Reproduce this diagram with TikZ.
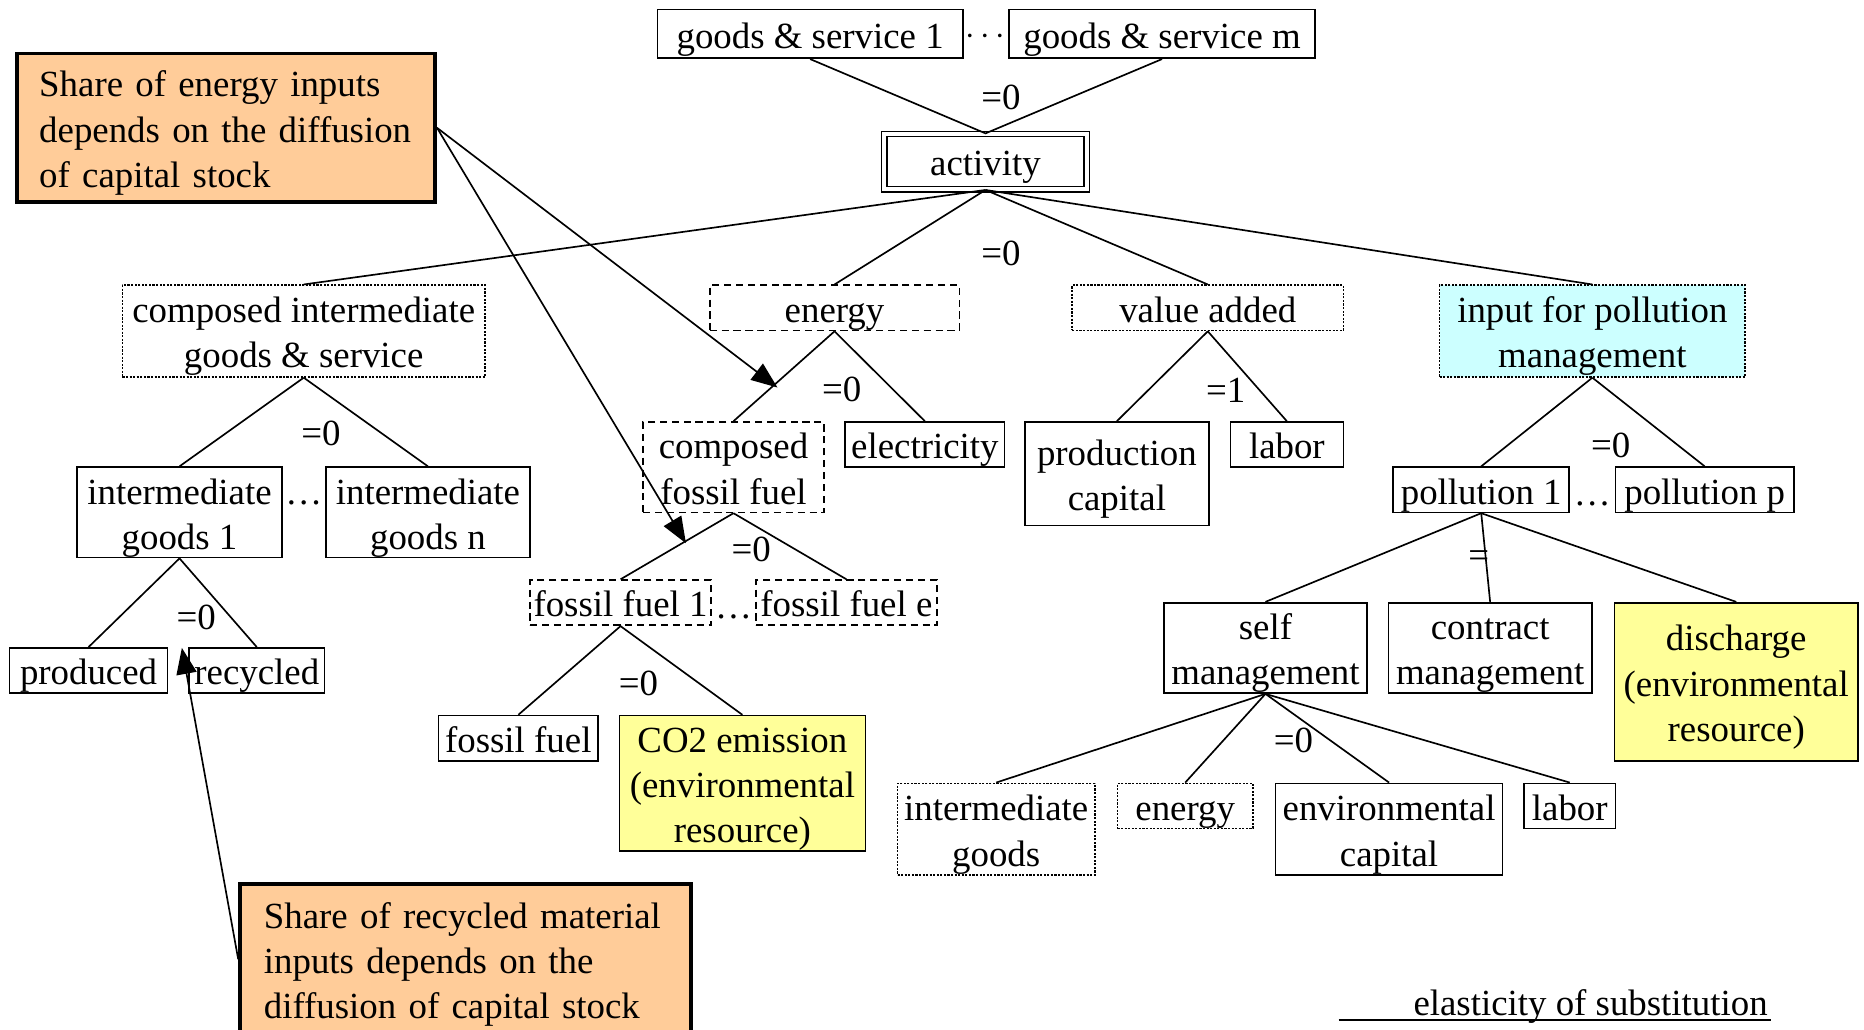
\documentclass[tikz,border=0pt]{standalone}
\usepackage{fontspec}
\setmainfont{Liberation Serif}
\usetikzlibrary{arrows.meta}
\definecolor{orangefill}{HTML}{FFCC99}
\definecolor{yellowfill}{HTML}{FFFF99}
\definecolor{cyanfill}{HTML}{CCFFFF}
\newcommand{\mytop}{\rule{0pt}{15.5pt}}
\newcommand{\mybot}{\rule[-3.5pt]{0pt}{3.5pt}}
\begin{document}
\begin{tikzpicture}[x=0.5pt,y=-0.5pt,
  every node/.style={font=\fontsize{15.5pt}{19pt}\selectfont},
  box/.style={draw, line width=0.7pt, inner sep=0pt, align=center},
  dotbox/.style={box, dash pattern=on 0.9pt off 0.6pt},
  dashbox/.style={box, dash pattern=on 3pt off 2pt},
  edge/.style={line width=0.7pt},
  note/.style={draw, line width=1.6pt, fill=orangefill, inner ysep=0pt, align=left},
  lbl/.style={inner sep=0pt},
  arr/.style={line width=0.7pt, -{Triangle[length=11pt,width=8.5pt]}}
]
\useasboundingbox (0,0) rectangle (1568,866);
\clip (0,0) rectangle (1568,866);

% top level
\node[box, minimum width=128.5pt, minimum height=20.5pt] (gs1) at (681.5,28.5) {\mytop goods \& service 1\mybot};
\node[box, minimum width=128.5pt, minimum height=20.5pt] (gsm) at (977.5,28.5) {\mytop goods \& service m\mybot};
\node[lbl] (d1) at (829,31) {$\cdots$};
\node[box, double, line width=0.6pt, double distance=1.6pt, minimum width=85.2pt, minimum height=23.2pt] (act) at (829,136) {\mytop activity\mybot};

% second level
\node[dotbox, minimum width=152.5pt, minimum height=38.5pt] (cigs) at (255.5,278.5) {\mytop composed intermediate\\goods \& service\mybot};
\node[dashbox, minimum width=105pt, minimum height=19pt] (energy) at (702,259) {\mytop energy\mybot};
\node[dotbox, minimum width=114pt, minimum height=19pt] (va) at (1016,259) {\mytop value added\mybot};
\node[dotbox, fill=cyanfill, minimum width=128.5pt, minimum height=38.5pt] (ipm) at (1339.5,278.5) {\mytop input for pollution\\management\mybot};

% intermediate branch
\node[box, minimum width=86pt, minimum height=38pt] (ig1) at (151,431) {\mytop intermediate\\goods 1\mybot};
\node[box, minimum width=86pt, minimum height=38pt] (ign) at (360,431) {\mytop intermediate\\goods n\mybot};
\node[lbl, anchor=base] (d2) at (255.5,424) {…};
\node[box, minimum width=66.5pt, minimum height=19pt] (prod) at (74.5,564) {\mytop produced\mybot};
\node[box, minimum width=57pt, minimum height=19pt] (rec) at (216,564) {\mytop recycled\mybot};

% energy branch
\node[dashbox, minimum width=76pt, minimum height=38pt] (cff) at (617,393) {\mytop composed\\fossil fuel\mybot};
\node[box, minimum width=67pt, minimum height=19pt] (elec) at (778,374) {\mytop electricity\mybot};
\node[dashbox, minimum width=76pt, minimum height=19pt] (ff1) at (522,507) {\mytop fossil fuel 1\mybot};
\node[dashbox, minimum width=76pt, minimum height=19pt] (ffe) at (712,507) {\mytop fossil fuel e\mybot};
\node[lbl, anchor=base] (d3) at (617,520) {…};
\node[box, minimum width=67pt, minimum height=19pt] (ff) at (436,621) {\mytop fossil fuel\mybot};
\node[box, fill=yellowfill, minimum width=103.5pt, minimum height=57pt] (co2) at (624.5,659) {\mytop CO2 emission\\(environmental\\resource)\mybot};

% value added branch
\node[box, minimum width=77.5pt, minimum height=43.5pt] (pc) at (939.5,398.5) {\mytop production\\capital\mybot};
\node[box, minimum width=47.5pt, minimum height=19pt] (lab) at (1082.5,374) {\mytop labor\mybot};

% pollution branch
\node[box, minimum width=74pt, minimum height=19pt] (p1) at (1246,412) {\mytop pollution 1\mybot};
\node[box, minimum width=75pt, minimum height=19pt] (pp) at (1434,412) {\mytop pollution p\mybot};
\node[lbl, anchor=base] (d4) at (1339.5,425) {…};
\node[box, minimum width=85.5pt, minimum height=38pt] (sm) at (1064.5,545) {\mytop self\\management\mybot};
\node[box, minimum width=85.5pt, minimum height=38pt] (cm) at (1253.5,545) {\mytop contract\\management\mybot};
\node[box, fill=yellowfill, minimum width=102.5pt, minimum height=66.5pt] (dis) at (1460.5,573.5) {\mytop discharge\\(environmental\\resource)\mybot};
\node[dotbox, minimum width=83pt, minimum height=38.5pt] (ig) at (838,697.5) {\mytop intermediate\\goods\mybot};
\node[dotbox, minimum width=57pt, minimum height=19pt] (en2) at (997,678) {\mytop energy\mybot};
\node[box, minimum width=95.5pt, minimum height=38.5pt] (ec) at (1168.5,697.5) {\mytop environmental\\capital\mybot};
\node[box, minimum width=38.5pt, minimum height=19pt] (lab2) at (1320.5,678) {\mytop labor\mybot};

% edges
\draw[edge] (gs1.south) -- (act.north) -- (gsm.south);
\foreach \c in {cigs,energy,va,ipm} \draw[edge] (act.south) -- (\c.north);
\foreach \c in {ig1,ign} \draw[edge] (cigs.south) -- (\c.north);
\foreach \c in {prod,rec} \draw[edge] (ig1.south) -- (\c.north);
\foreach \c in {cff,elec} \draw[edge] (energy.south) -- (\c.north);
\foreach \c in {ff1,ffe} \draw[edge] (cff.south) -- (\c.north);
\foreach \c in {ff,co2} \draw[edge] (ff1.south) -- (\c.north);
\foreach \c in {pc,lab} \draw[edge] (va.south) -- (\c.north);
\foreach \c in {p1,pp} \draw[edge] (ipm.south) -- (\c.north);
\foreach \c in {sm,cm,dis} \draw[edge] (p1.south) -- (\c.north);
\foreach \c in {ig,en2,ec,lab2} \draw[edge] (sm.south) -- (\c.north);

% elasticity labels
\node[lbl] (l1) at (842,82) {=0};
\node[lbl] (l2) at (842,213) {=0};
\node[lbl] (l3) at (270,365) {=0};
\node[lbl] (l4) at (165,519) {=0};
\node[lbl] (l5) at (708,328) {=0};
\node[lbl] (l6) at (632,462) {=0};
\node[lbl] (l7) at (537,575) {=0};
\node[lbl] (l8) at (1031,328) {=1};
\node[lbl] (l9) at (1355,375) {=0};
\node[lbl] (l10) at (1244,470) {=};
\node[lbl] (l11) at (1088,623) {=0};

% notes
\node[note, text width=157pt, inner xsep=9.5pt, minimum height=62.5pt] (o1) at (190,107.5) {\mytop Share of energy inputs\\depends on the diffusion\\of capital stock\mybot};
\node[note, text width=169.5pt, inner xsep=10pt, minimum height=63.5pt] (o2) at (391.5,807) {\mytop Share of recycled material\\inputs depends on the\\diffusion of capital stock\mybot};
\coordinate (t1) at (654,326);
\coordinate (t2) at (577,457);
\coordinate (t3) at (153,545);
\draw[arr] (o1.east) -- (t1);
\draw[arr] (o1.east) -- (t2);
\draw[arr] (o2.west) -- (t3);

% legend
\node[lbl] (leg) at (1338,847) {elasticity of substitution};
\coordinate (u1) at (1126,858);
\coordinate (u2) at (1490,858);
\draw[line width=1.1pt] (u1) -- (u2);
\end{tikzpicture}
\end{document}
